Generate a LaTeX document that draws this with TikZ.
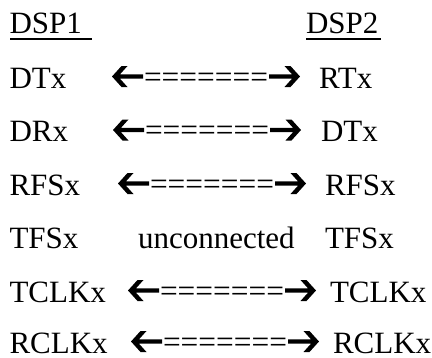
\documentclass[tikz,border=0pt]{standalone}
\usepackage{fontspec}
\setmainfont{Liberation Serif}
\begin{document}
\begin{tikzpicture}[x=1pt,y=-1pt,
  lbl/.style={inner sep=0pt,outer sep=0pt,anchor=base west,font=\fontsize{31}{31}\selectfont},
  eqs/.style={inner sep=0pt,outer sep=0pt,anchor=base,font=\fontsize{31.4}{31.4}\selectfont},
  uline/.style={line width=1.5pt}]
\useasboundingbox (0,0) rectangle (432,357);
\tikzset{
  larrow/.pic={\fill (0,0) -- (9.5,-10.5) -- (15.5,-10.5) -- (8,-2.2) -- (31,-2.2) -- (31,2.2) -- (8,2.2) -- (15.5,10.5) -- (9.5,10.5) -- cycle;},
  rarrow/.pic={\fill (0,0) -- (-9.5,-10.5) -- (-15.5,-10.5) -- (-8,-2.2) -- (-31,-2.2) -- (-31,2.2) -- (-8,2.2) -- (-15.5,10.5) -- (-9.5,10.5) -- cycle;}
}
% headers
\node[lbl] (h1) at (9.5,33.5) {DSP1};
\node[lbl] (h2) at (306,33.5) {DSP2};
\coordinate (u1a) at (10,38.8);
\coordinate (u1b) at (92,38.8);
\coordinate (u2a) at (306,38.8);
\coordinate (u2b) at (381,38.8);
\draw[uline] (u1a) -- (u1b);
\draw[uline] (u2a) -- (u2b);
% rows
\foreach \i/\lt/\L/\rt/\R/\b in {1/DTx/112/RTx/319/88, 2/DRx/113/DTx/321/141.5, 3/RFSx/118/RFSx/325/195, 5/TCLKx/128/TCLKx/330/302, 6/RCLKx/131/RCLKx/333/353}{
  \node[lbl] (l\i) at (9.5,\b) {\lt};
  \node[lbl] (r\i) at (\R,\b) {\rt};
  \coordinate (al\i) at (\L,\b-11.5);
  \coordinate (ar\i) at (\L+188,\b-11.5);
  \pic at (al\i) {larrow};
  \pic at (ar\i) {rarrow};
  \node[eqs] (e\i) at (\L+94,\b-0.8) {=======};
}
\node[lbl] (l4) at (9.5,248.5) {TFSx};
\node[lbl] (u4) at (138,248.5) {unconnected};
\node[lbl] (r4) at (325,248.5) {TFSx};
\end{tikzpicture}
\end{document}
